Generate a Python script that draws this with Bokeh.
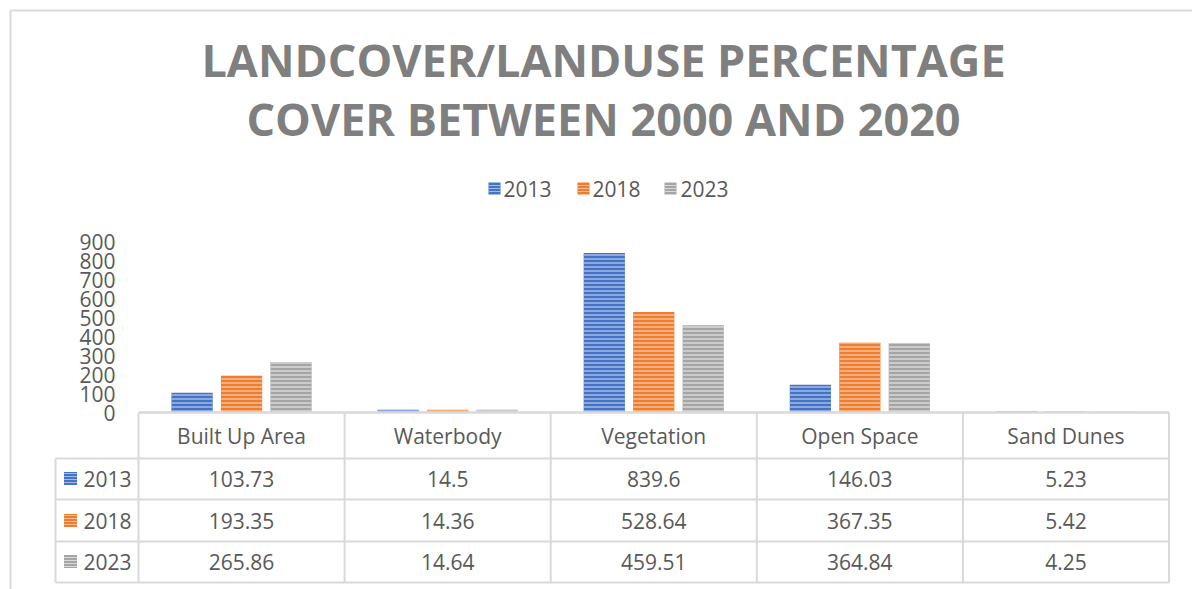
from bokeh.plotting import figure
from bokeh.models import Range1d
from bokeh.embed import file_html
from bokeh.resources import INLINE
from bokeh.core.properties import value

# ---------------- data ----------------
categories = ["Built Up Area", "Waterbody", "Vegetation", "Open Space", "Sand Dunes"]
years = ["2013", "2018", "2023"]
v2013 = [103.73, 14.5, 839.6, 146.03, 5.23]
v2018 = [193.35, 14.36, 528.64, 367.35, 5.42]
v2023 = [265.86, 14.64, 459.51, 364.84, 4.25]
y_ticks = [0, 100, 200, 300, 400, 500, 600, 700, 800, 900]
title_lines = ["LANDCOVER/LANDUSE PERCENTAGE", "COVER BETWEEN 2000 AND 2020"]

series = [v2013, v2018, v2023]
main_colors = ["#4472C4", "#ED7D31", "#A5A5A5"]
stripe_colors = ["#a3bbe8", "#f8bd94", "#d9d9d9"]

# ---------------- layout (page pixels) ----------------
W, H = 1192, 589
OX, OY = 0, 0
PLOT_LEFT = 138.0
CAT_W = 206.1
ZERO_Y = 412.0
PX_PER_UNIT = 0.19
GRID = "#d9d9d9"
TXT = "#595959"
FONT = value("Open Sans")
FS = "21px"

x_start = (OX - PLOT_LEFT) / CAT_W
x_end = (OX + W - PLOT_LEFT) / CAT_W
y_start = (ZERO_Y - (OY + H)) / PX_PER_UNIT
y_end = (ZERO_Y - OY) / PX_PER_UNIT

p = figure(width=W, height=H, x_range=Range1d(x_start, x_end),
           y_range=Range1d(y_start, y_end), output_backend="svg",
           toolbar_location=None, min_border=0, outline_line_color=None,
           x_axis_type=None, y_axis_type=None, background_fill_color="white",
           border_fill_color="white")
p.extra_x_ranges = {"px": Range1d(OX, OX + W)}
p.extra_y_ranges = {"py": Range1d(OY + H, OY)}

# chart border (left and top visible)
p.segment(x0=[10, 10], y0=[10, 10], x1=[OX + W + 5, 10], y1=[10, OY + H + 5],
          line_color=GRID, line_width=2, x_range_name="px", y_range_name="py")

# title
p.text(x=[603, 603], y=[59, 118], text=title_lines, text_font=FONT,
       text_font_style="bold", text_font_size="45px", text_color="#7f7f7f",
       text_align="center", text_baseline="middle",
       x_range_name="px", y_range_name="py")

# top legend
leg_sq_x = [494, 583, 670]
leg_tx_x = [503, 592, 680]
for k in range(3):
    p.rect(x=[leg_sq_x[k]], y=[188], width=12, height=12, width_units="screen",
           height_units="screen", fill_color=main_colors[k], line_color=None,
           hatch_pattern="horizontal_line", hatch_color=stripe_colors[k],
           hatch_scale=3, hatch_weight=1, x_range_name="px", y_range_name="py")
p.text(x=leg_tx_x, y=[188] * 3, text=years, text_font=FONT, text_font_size=FS,
       text_color=TXT, text_align="left", text_baseline="middle",
       x_range_name="px", y_range_name="py")

# bars
offsets = [-0.24, 0.0, 0.24]
for k in range(3):
    xs = [i + 0.5 + offsets[k] for i in range(len(categories))]
    p.vbar(x=xs, top=series[k], bottom=0, width=0.2, fill_color=main_colors[k],
           line_color=None, hatch_pattern="horizontal_line",
           hatch_color=stripe_colors[k], hatch_scale=4, hatch_weight=1.5)

# y tick labels
p.text(x=[115] * len(y_ticks), y=y_ticks, text=[str(t) for t in y_ticks],
       text_font=FONT, text_font_size=FS, text_color=TXT, text_align="right",
       text_baseline="middle", x_range_name="px")

# baseline / table top
n = len(categories)
p.segment(x0=[0], y0=[0], x1=[n], y1=[0], line_color=GRID, line_width=2.5)

# data table
TABLE_LEFT = 55
HEADER_BOTTOM = 458
row_bottoms = [499, 541, 582]
row_centers = [478, 520, 561]
right_px = PLOT_LEFT + n * CAT_W
p.segment(x0=[TABLE_LEFT] * 4, y0=[HEADER_BOTTOM] + row_bottoms,
          x1=[right_px] * 4, y1=[HEADER_BOTTOM] + row_bottoms,
          line_color=GRID, line_width=2, x_range_name="px", y_range_name="py")
p.segment(x0=list(range(n + 1)), y0=[ZERO_Y] * (n + 1), x1=list(range(n + 1)),
          y1=[row_bottoms[-1]] * (n + 1), line_color=GRID, line_width=2,
          y_range_name="py")
p.segment(x0=[TABLE_LEFT], y0=[HEADER_BOTTOM], x1=[TABLE_LEFT], y1=[row_bottoms[-1]],
          line_color=GRID, line_width=2, x_range_name="px", y_range_name="py")

# header texts
p.text(x=[i + 0.5 for i in range(n)], y=[435] * n, text=categories, text_font=FONT,
       text_font_size=FS, text_color=TXT, text_align="center",
       text_baseline="middle", y_range_name="py")

# row keys and values
for k in range(3):
    p.rect(x=[70], y=[row_centers[k]], width=13, height=13, width_units="screen",
           height_units="screen", fill_color=main_colors[k], line_color=None,
           hatch_pattern="horizontal_line", hatch_color=stripe_colors[k],
           hatch_scale=3, hatch_weight=1, x_range_name="px", y_range_name="py")
    p.text(x=[83], y=[row_centers[k]], text=[years[k]], text_font=FONT,
           text_font_size=FS, text_color=TXT, text_align="left",
           text_baseline="middle", x_range_name="px", y_range_name="py")
    p.text(x=[i + 0.5 for i in range(n)], y=[row_centers[k]] * n,
           text=[str(v) for v in series[k]], text_font=FONT, text_font_size=FS,
           text_color=TXT, text_align="center", text_baseline="middle",
           y_range_name="py")

open("out.html", "w").write(file_html(p, INLINE))
